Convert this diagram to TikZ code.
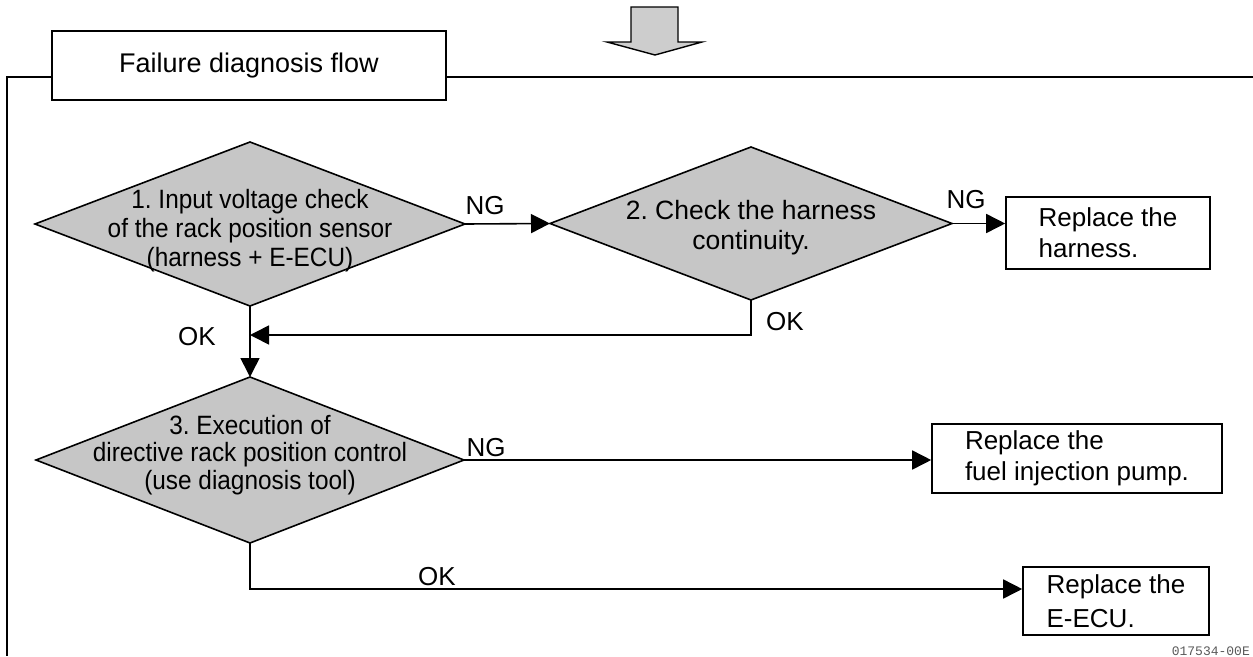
\documentclass[tikz,border=0pt]{standalone}
\usepackage{fontspec}
\setmainfont{Liberation Sans}
\newfontfamily\condfont[FakeStretch=0.92]{Liberation Sans}
\newfontfamily\codefont{Liberation Mono}
\usetikzlibrary{shapes.geometric,arrows.meta}
\definecolor{dfill}{HTML}{C6C6C6}
\definecolor{afill}{HTML}{CDCDCD}
\frenchspacing
\begin{document}
\begin{tikzpicture}[x=1pt,y=-1pt,
  ln/.style={line width=1.6pt, black},
  arr/.style={ln, -{Triangle[length=19pt,width=19pt]}},
  dia/.style={diamond, draw, ln, fill=dfill, inner sep=0pt, outer sep=0pt},
  dtext/.style={align=center, inner sep=0pt},
  rbox/.style={draw, ln, fill=white, align=left, inner sep=0pt},
  lbl/.style={inner sep=0pt, font=\fontsize{26}{26}\selectfont}]
\useasboundingbox (0,0) rectangle (1253,656);

% top arrow
\draw[line width=1.4pt, fill=afill, line join=miter]
  (631,7) -- (678,7) -- (678,42) -- (702,42) -- (655,55) -- (607,42) -- (631,42) -- cycle;

% header box and frame
\node[rbox, align=center, minimum width=394pt, minimum height=69pt,
      font=\fontsize{27}{27}\selectfont] (hdr) at (249,65.5) {Failure diagnosis flow};
\coordinate (fc) at (7,77);
\coordinate (fbl) at (7,656);
\coordinate (fr) at (1253,77);
\draw[ln] (hdr.west |- fc) -- (fc) -- (fbl);
\draw[ln] (hdr.east |- fc) -- (fr);

% diamonds
\node[dia, minimum width=430pt, minimum height=164pt] (d1) at (250,224) {};
\node[dia, minimum width=402pt, minimum height=153pt] (d2) at (751,223.5) {};
\node[dia, minimum width=428pt, minimum height=166pt] (d3) at (250,460) {};

\node[dtext, font=\condfont\fontsize{26.5}{29}\selectfont] (t1) at (250,231)
  {1. Input voltage check\\of the rack position sensor\\(harness + E-ECU)};
\node[dtext, font=\fontsize{26.5}{30}\selectfont] (t2) at (751,228)
  {2. Check the harness\\continuity.};
\node[dtext, font=\condfont\fontsize{26.5}{27.5}\selectfont] (t3) at (250,455)
  {3. Execution of\\directive rack position control\\(use diagnosis tool)};

% result boxes
\node[rbox, minimum width=204pt, minimum height=72pt, font=\fontsize{26}{31}\selectfont]
  (hb) at (1108,233) {Replace the\\harness.};
\node[rbox, minimum width=290pt, minimum height=69pt, font=\fontsize{26}{31}\selectfont]
  (fb) at (1077,458.5) {Replace the\\fuel injection pump.};
\node[rbox, minimum width=186pt, minimum height=68pt, font=\fontsize{26}{34}\selectfont]
  (eb) at (1116,601) {Replace the\\E-ECU.};

% connectors
\coordinate (j1) at (250,335);
\coordinate (j2) at (250,589);
\draw[arr] (d1.east) -- (d2.west);
\draw[arr] (d2.east) -- (d2.east -| hb.west);
\draw[arr] (d2.south) |- (j1);
\draw[arr] (d1.south) -- (d3.north);
\draw[arr] (d3.east) -- (d3.east -| fb.west);
\draw[arr] (d3.south) -- (j2) -- (j2 -| eb.west);

% labels
\node[lbl] (ng1) at (485,206) {NG};
\node[lbl] (ng2) at (966,200) {NG};
\node[lbl] (ok2) at (785,322) {OK};
\node[lbl] (ok1) at (197,337) {OK};
\node[lbl] (ng3) at (486,448) {NG};
\node[lbl] (ok3) at (437,577) {OK};

% code
\node[anchor=east, inner sep=0pt, text=black!65, font=\codefont\fontsize{13}{13}\selectfont]
  (code) at (1250,651) {017534-00E};
\end{tikzpicture}
\end{document}
